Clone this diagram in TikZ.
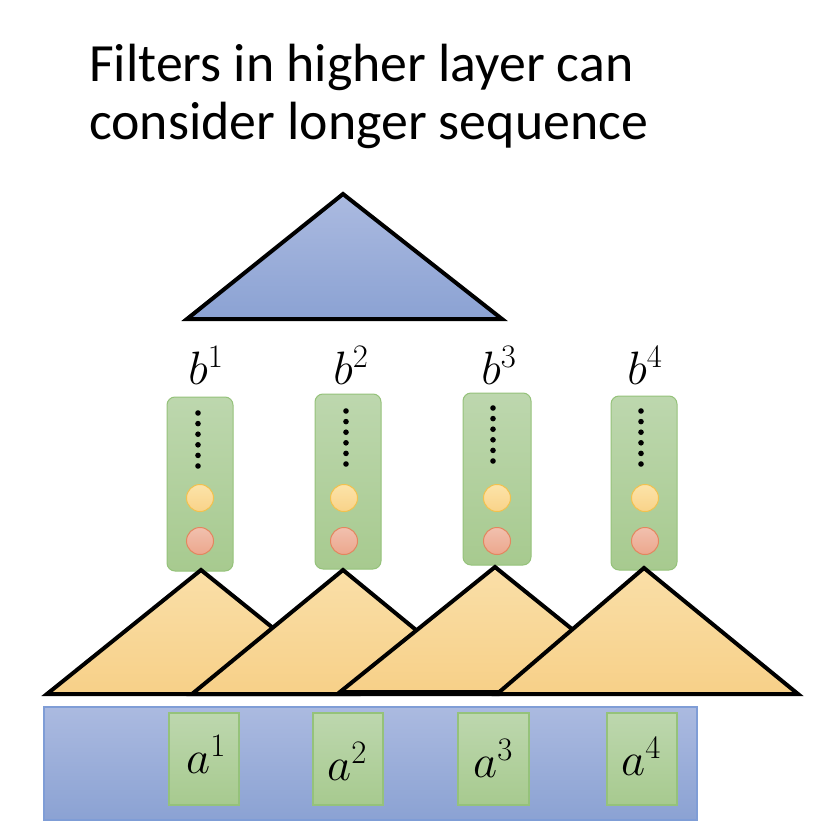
\RequirePackage{fix-cm}
\documentclass[tikz,border=0pt]{standalone}
\usepackage{fontspec}
\newfontfamily\titlefont{Carlito}
\definecolor{blueTop}{HTML}{ABBAE0}
\definecolor{blueBot}{HTML}{8BA2D3}
\definecolor{blueLine}{HTML}{7F9DD6}
\definecolor{orTop}{HTML}{FADFA8}
\definecolor{orBot}{HTML}{F7D088}
\definecolor{grTop}{HTML}{BDD7AE}
\definecolor{grBot}{HTML}{A7CA8F}
\definecolor{grLine}{HTML}{95C27A}
\definecolor{yeTop}{HTML}{FCE3A9}
\definecolor{yeBot}{HTML}{F9D389}
\definecolor{yeLine}{HTML}{F2C14E}
\definecolor{reTop}{HTML}{F1C0AE}
\definecolor{reBot}{HTML}{ECA78D}
\definecolor{reLine}{HTML}{E3865F}
\begin{document}
\begin{tikzpicture}[x=1bp,y=-1bp,
  titletext/.style={anchor=base west,inner sep=0pt,font=\titlefont\fontsize{54}{64}\selectfont},
  blab/.style={anchor=base,inner sep=0pt,font=\fontsize{47}{56}\selectfont},
  tri/.style={draw=black,line width=4bp,line join=miter},
  bluetri/.style={tri,top color=blueTop,bottom color=blueBot},
  ortri/.style={tri,top color=orTop,bottom color=orBot},
  vbox/.style={draw=grLine,line width=1bp,rounded corners=8bp,top color=grTop,bottom color=grBot,minimum width=66bp,inner sep=0pt},
  abox/.style={draw=grLine,line width=1.2bp,top color=grTop,bottom color=grBot,minimum width=70bp,minimum height=92bp,inner sep=0pt},
  dotn/.style={circle,fill=black,minimum size=5.6bp,inner sep=0pt},
  yel/.style={circle,draw=yeLine,line width=1bp,top color=yeTop,bottom color=yeBot,minimum size=27bp,inner sep=0pt},
  red/.style={circle,draw=reLine,line width=1bp,top color=reTop,bottom color=reBot,minimum size=27bp,inner sep=0pt},
  seq/.style={draw=blueLine,line width=1.2bp,top color=blueTop,bottom color=blueBot,minimum width=653bp,minimum height=113bp,inner sep=0pt}
]
\useasboundingbox (0,0) rectangle (822,832);

% title
\node[titletext] (t1) at (89,81) {Filters in higher layer can};
\node[titletext] (t2) at (89,139) {consider longer sequence};

% top triangle
\draw[bluetri] (343,194) coordinate (top) -- (502,319) coordinate (topR) -- (187,319) coordinate (topL) -- cycle;

% b labels
\node[blab] (b1) at (206,384) {$b^1$};
\node[blab] (b2) at (351,384) {$b^2$};
\node[blab] (b3) at (499,384) {$b^3$};
\node[blab] (b4) at (645,384) {$b^4$};

% vector boxes
\node[vbox,minimum height=174bp] (v1) at (200,484) {};
\node[vbox,minimum height=175bp] (v2) at (348,481.5) {};
\node[vbox,minimum width=68bp,minimum height=172bp] (v3) at (497,479) {};
\node[vbox,minimum height=174bp] (v4) at (644,483) {};

% dots
\foreach \i/\x/\y in {1/198/413,2/346/411,3/493/408,4/641/411}{
  \foreach \k in {0,...,5}{
    \node[dotn] (d\i-\k) at (\x,\y+10.6*\k) {};
  }
}
% circles
\foreach \i/\x in {1/200,2/344,3/497,4/645}{
  \node[yel] (y\i) at (\x,498) {};
  \node[red] (r\i) at (\x,541) {};
}

% bottom triangles
\draw[ortri] (201,570) coordinate (p1) -- (355,694) -- (47,694) -- cycle;
\draw[ortri] (343,570) coordinate (p2) -- (494,694) -- (192,694) -- cycle;
\draw[ortri] (495,567) coordinate (p3) -- (650,692) -- (340,692) -- cycle;
\draw[ortri] (644,568) coordinate (p4) -- (798,694) -- (497,694) -- cycle;

% input sequence
\node[seq] (s) at (370.5,763.5) {};
\node[abox] (a1) at (204,759) {};
\node[abox] (a2) at (348,759) {};
\node[abox,minimum width=71bp] (a3) at (493.5,759) {};
\node[abox] (a4) at (642,759) {};
\node[blab] (la1) at (206,773) {$a^1$};
\node[blab] (la2) at (347,780) {$a^2$};
\node[blab] (la3) at (493,777) {$a^3$};
\node[blab] (la4) at (641,775) {$a^4$};
\end{tikzpicture}
\end{document}
